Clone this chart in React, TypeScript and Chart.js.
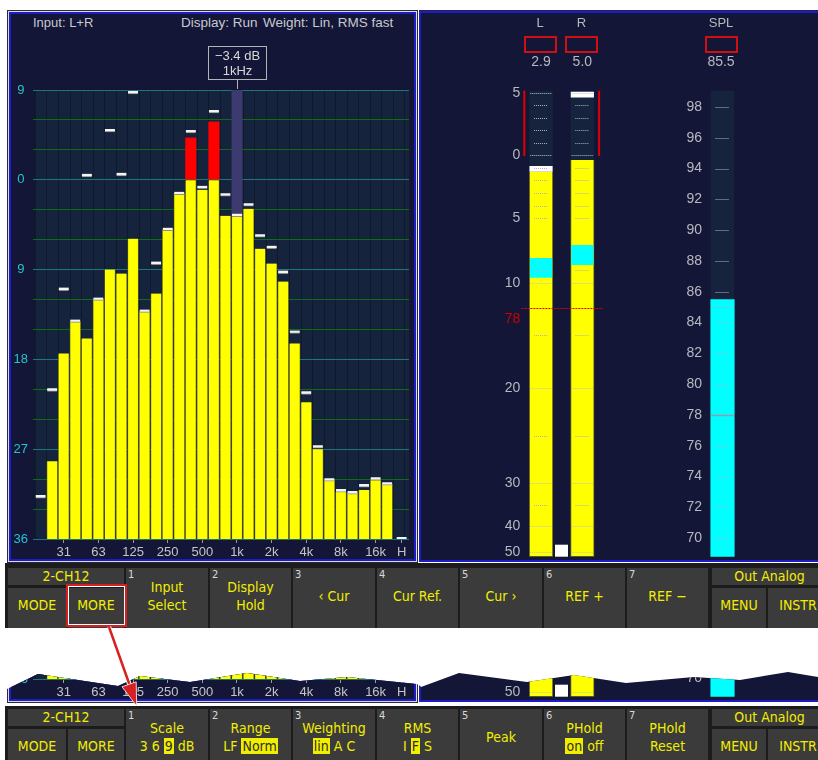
import React, { useEffect, useRef } from 'react';
import { Chart, registerables, LinearScale } from 'chart.js';

Chart.register(...registerables);

// ---------------- data ----------------
const bandLabels = ['20', '25', '31.5', '40', '50', '63', '80', '100', '125', '160', '200', '250', '315', '400', '500', '630', '800', '1k', '1.25k', '1.6k', '2k', '2.5k', '3.15k', '4k', '5k', '6.3k', '8k', '10k', '12.5k', '16k', '20k', 'H'];
const bandPos = [0, 1, 2, 3, 4, 5, 6, 7, 8, 9, 10, 11, 12, 13, 14, 15, 16, 17, 18, 19, 20, 21, 22, 23, 24, 25, 26, 27, 28, 29, 30, 31.25];
const bandLevelDb = [null, -28.2, -17.4, -14.2, -15.9, -12.0, -9.0, -9.4, -5.9, -13.2, -11.4, -5.0, -1.35, 4.2, -1.0, 5.8, -3.6, -3.4, -2.9, -6.9, -8.4, -10.2, -16.4, -22.3, -27.0, -30.1, -31.3, -31.4, -31.1, -30.1, -30.5, null];
const bandPeakDb = [-31.6, -20.9, -10.8, -14.0, 0.6, -11.8, 5.1, 0.7, 8.9, -13.0, -8.2, -4.8, -1.2, 5.0, -0.6, 7.0, -1.35, -3.4, -2.35, -5.45, -6.6, -9.1, -15.1, -21.2, -26.6, -29.9, -31.0, -31.2, -30.5, -29.8, -30.3, -35.8];
const freqTickBands = [2, 5, 8, 11, 14, 17, 20, 23, 26, 29, 31];
const freqTickLabels = ['31', '63', '125', '250', '500', '1k', '2k', '4k', '8k', '16k', 'H'];
const specTopDb = 9;
const specBottomDb = -36;
const cursorBand = 17;
const cursorText = ['\u22123.4 dB', '1kHz'];

const meterChannels = ['L', 'R'];
const meterLevelDb = [-1.3, -0.4];
const meterPeakHoldDb = [-0.9, 5.05];
const meterRmsLowDb = [-9.6, -8.6];
const meterRmsHighDb = [-8.1, -7.1];
const meterReadout = ['2.9', '5.0'];
const meterRefDb = -12.4;
const meterRefLabel = '78';
const ppmTickDb = [5, 0, -5, -10, -20, -30, -40, -50];
const ppmLongMarks = [5, 0, -10, -20, -30, -40, -50];
const ppmShortMarks = [4, 3, 2, 1, -1, -2, -3, -4, -5, -9, -15, -25, -35];
// non-linear meter scale: dB -> fraction of meter height
const ppmScaleDb = [5.16, 5, 0, -5, -10, -20, -30, -40, -50, -52.5];
const ppmScaleFrac = [1, 0.9957, 0.862, 0.7262, 0.588, 0.3614, 0.1575, 0.0659, 0.0094, 0];

const splName = 'SPL';
const splValue = 85.5;
const splReadout = '85.5';
const splHoldMark = 85;
const splRef = 78;
const splTicks = [70, 72, 74, 76, 78, 80, 82, 84, 86, 88, 90, 92, 94, 96, 98];
const splMin = 68.8;
const splMax = 99.06;

// ---------------- style ----------------
const NAVY = '#131636';
const COL = '#15233d';
const SEP = '#0f182e';
const BLUE = '#1c1cc8';
const TEAL = '#1d7678';
const GREEN = '#0f6c14';
const YELLOW = '#ffff00';
const RED = '#ff0000';
const CYAN = '#00ffff';
const GRAY = '#b8b8c0';
const FONT = "'Liberation Sans', Arial, sans-serif";
const KEYFONT = "'Liberation Sans Narrow', 'DejaVu Sans Condensed', 'Liberation Sans', sans-serif";
const KEYBG = '#3b3b3b';
const KEYTXT = '#f2ee00';

Chart.defaults.font.family = FONT;

function ppmFrac(v: number) {
  const d = ppmScaleDb, f = ppmScaleFrac;
  if (v >= d[0]) return 1;
  for (let i = 0; i < d.length - 1; i++) {
    if (v <= d[i] && v >= d[i + 1]) return f[i + 1] + (v - d[i + 1]) * (f[i] - f[i + 1]) / (d[i] - d[i + 1]);
  }
  return 0;
}

class PpmScale extends LinearScale {
  static id = 'ppm';
  static defaults = {};
  getPixelForValue(value: number) {
    return this.bottom - ppmFrac(value) * (this.bottom - this.top);
  }
  getValueForPixel(pixel: number) {
    const fr = (this.bottom - pixel) / (this.bottom - this.top);
    const d = ppmScaleDb, f = ppmScaleFrac;
    for (let i = 0; i < d.length - 1; i++) {
      if (fr <= f[i] && fr >= f[i + 1]) return d[i + 1] + (fr - f[i + 1]) * (d[i] - d[i + 1]) / (f[i] - f[i + 1]);
    }
    return fr > 1 ? d[0] : d[d.length - 1];
  }
}
Chart.register(PpmScale);

function dotted(ctx: any, x0: number, x1: number, y: number, color: string, dash: number[] = [1, 1], lw = 1) {
  ctx.save();
  ctx.strokeStyle = color;
  ctx.lineWidth = lw;
  ctx.setLineDash(dash);
  ctx.beginPath();
  ctx.moveTo(x0, Math.round(y) + 0.5);
  ctx.lineTo(x1, Math.round(y) + 0.5);
  ctx.stroke();
  ctx.restore();
}

const noLabelPadding = (w: number) => (s: any) => {
  s.width = w;
  s.paddingTop = 0;
  s.paddingBottom = 0;
};

// ---------------- spectrum ----------------
const spectrumPlugin = {
  id: 'spectrumDecor',
  beforeDraw(chart: any) {
    const { ctx, chartArea: a, scales } = chart;
    const x = scales.x;
    ctx.save();
    ctx.beginPath();
    ctx.rect(a.left, a.top, a.right - a.left, a.bottom - a.top);
    ctx.clip();
    ctx.fillStyle = SEP;
    ctx.fillRect(a.left, a.top, a.right - a.left, a.bottom - a.top);
    ctx.fillStyle = COL;
    for (let i = 0; i < 34; i++) {
      const l = Math.round(x.getPixelForValue(i - 0.5));
      const r = Math.round(x.getPixelForValue(i + 0.5));
      ctx.fillRect(l + 1, a.top, r - l - 1, a.bottom - a.top);
    }
    ctx.restore();
  },
  afterDraw(chart: any) {
    const { ctx, chartArea: a, scales } = chart;
    const cx = Math.round(scales.x.getPixelForValue(bandPos[cursorBand])) + 0.5;
    ctx.save();
    ctx.strokeStyle = '#b4b4b4';
    ctx.lineWidth = 1;
    ctx.strokeRect(cx - 29, Math.round(a.top - 44) + 0.5, 58, 33);
    ctx.beginPath();
    ctx.moveTo(cx, a.top - 11);
    ctx.lineTo(cx, a.top - 1);
    ctx.stroke();
    ctx.fillStyle = '#d8d8d8';
    ctx.font = '13px ' + FONT;
    ctx.textAlign = 'center';
    ctx.textBaseline = 'middle';
    ctx.fillText(cursorText[0], cx, a.top - 34);
    ctx.fillText(cursorText[1], cx, a.top - 19);
    ctx.restore();
  },
};

function spectrumConfig(): any {
  return {
    type: 'bar',
    data: {
      datasets: [
        {
          label: 'cursor',
          data: [{ x: bandPos[cursorBand], y: [bandLevelDb[cursorBand], specTopDb] }],
          backgroundColor: '#3c3a6e',
          barThickness: 10.5,
          grouped: false,
          order: 3,
        },
        {
          label: 'level',
          data: bandLevelDb.map((v, i) => ({ x: bandPos[i], y: v === null ? null : [specBottomDb, Math.min(v, 0)] })),
          backgroundColor: YELLOW,
          borderColor: '#66661e',
          borderWidth: { left: 0.8, right: 0.8, top: 0, bottom: 0 },
          borderSkipped: false,
          barThickness: 10.8,
          grouped: false,
          order: 2,
        },
        {
          label: 'over',
          data: bandLevelDb.map((v, i) => ({ x: bandPos[i], y: v !== null && v > 0 ? [0, v] : null })),
          backgroundColor: RED,
          barThickness: 10.5,
          grouped: false,
          order: 2,
        },
        {
          label: 'peak',
          data: bandPeakDb.map((p, i) => ({ x: bandPos[i], y: [p - 0.3, p] })),
          backgroundColor: '#f4f4f4',
          borderColor: '#8d8d8d',
          borderWidth: { top: 0, left: 0, right: 0, bottom: 1 },
          borderSkipped: false,
          barThickness: 10,
          grouped: false,
          order: 0,
        },
      ],
    },
    options: {
      responsive: false,
      animation: false,
      layout: { padding: { top: 76, right: 5, left: 0, bottom: 0 } },
      plugins: { legend: { display: false }, tooltip: { enabled: false } },
      scales: {
        x: {
          type: 'linear',
          offset: false,
          min: -0.66,
          max: 31.89,
          afterFit: (s: any) => { s.height = 20; },
          afterBuildTicks: (s: any) => { s.ticks = freqTickBands.map((b) => ({ value: bandPos[b] })); },
          ticks: {
            callback: (_v: any, i: number) => freqTickLabels[i],
            color: '#c4c4c8',
            font: { size: 13 },
            padding: 2,
            autoSkip: false,
            maxRotation: 0,
          },
          grid: { offset: false, drawOnChartArea: false, drawTicks: true, tickLength: 4, color: '#9a9aa0', lineWidth: 1 },
          border: { display: false },
        },
        y: {
          type: 'linear',
          min: specBottomDb,
          max: specTopDb,
          afterFit: (s: any) => { s.width = 22; },
          ticks: {
            stepSize: 3,
            autoSkip: false,
            callback: (v: number) => (v % 9 === 0 ? String(Math.abs(v)) : ''),
            color: '#26c3cf',
            font: { size: 13 },
            padding: 5,
            crossAlign: 'center',
          },
          grid: {
            drawTicks: false,
            lineWidth: 1,
            color: (c: any) => (c.tick && c.tick.value % 9 === 0 ? TEAL : GREEN),
          },
          border: { display: false },
        },
      },
    },
    plugins: [spectrumPlugin],
  };
}

// ---------------- L/R meters ----------------
const METER_W = 23.5;
const meterPlugin = {
  id: 'meterDecor',
  beforeDatasetsDraw(chart: any) {
    const { ctx, chartArea: a, scales } = chart;
    ctx.save();
    ctx.fillStyle = COL;
    meterChannels.forEach((_, i) => {
      const cx = scales.x.getPixelForValue(i);
      ctx.fillRect(cx - METER_W / 2, a.top, METER_W, a.bottom - a.top);
    });
    ctx.restore();
  },
  afterDatasetsDraw(chart: any) {
    const { ctx, chartArea: a, scales } = chart;
    const x = scales.x, y = scales.y;
    meterChannels.forEach((_, i) => {
      const cx = x.getPixelForValue(i);
      ppmLongMarks.forEach((v) => dotted(ctx, cx - METER_W / 2 + 1, cx + METER_W / 2 - 1, y.getPixelForValue(v), '#c0c0d0', [1, 1]));
      ppmShortMarks.forEach((v) => dotted(ctx, cx - 7, cx + 7, y.getPixelForValue(v), '#b0b0c4', [1, 1]));
    });
    const c0 = x.getPixelForValue(0), c1 = x.getPixelForValue(1);
    ctx.save();
    ctx.fillStyle = '#e00000';
    const yTop = y.getPixelForValue(ppmScaleDb[0]);
    const y0 = y.getPixelForValue(0) + 1;
    ctx.fillRect(c0 - METER_W / 2 - 6, yTop, 2, y0 - yTop);
    ctx.fillRect(c1 + METER_W / 2 + 4, yTop, 2, y0 - yTop);
    ctx.restore();
    dotted(ctx, a.left + 1, a.right, y.getPixelForValue(meterRefDb), '#e00000', [2, 1], 1.2);
    ctx.save();
    ctx.fillStyle = '#d00000';
    ctx.font = '14px ' + FONT;
    ctx.textAlign = 'right';
    ctx.textBaseline = 'middle';
    ctx.fillText(meterRefLabel, a.left, y.getPixelForValue(meterRefDb) + 11);
    ctx.fillStyle = '#ffffff';
    const mid = (c0 + c1) / 2;
    ctx.fillRect(Math.round(mid - 6.5), a.bottom - 12, 13, 12);
    ctx.restore();
  },
  afterDraw(chart: any) {
    const { ctx, scales } = chart;
    ctx.save();
    ctx.textAlign = 'center';
    ctx.textBaseline = 'middle';
    meterChannels.forEach((name, i) => {
      const cx = scales.x.getPixelForValue(i);
      ctx.fillStyle = GRAY;
      ctx.font = '13px ' + FONT;
      ctx.fillText(name, cx - 1, 9);
      ctx.font = '14px ' + FONT;
      ctx.fillText(meterReadout[i], cx, 48);
      ctx.strokeStyle = '#d01010';
      ctx.lineWidth = 2;
      ctx.strokeRect(Math.round(cx - 16), 23, 31, 15);
    });
    ctx.restore();
  },
};

function meterConfig(): any {
  const lo = ppmScaleDb[ppmScaleDb.length - 1];
  return {
    type: 'bar',
    data: {
      labels: meterChannels,
      datasets: [
        {
          label: 'level',
          data: meterLevelDb.map((v) => [lo, v]),
          backgroundColor: YELLOW,
          borderColor: '#6a6a20',
          borderWidth: { left: 1, right: 1, bottom: 1, top: 0 },
          borderSkipped: false,
          barThickness: METER_W,
          grouped: false,
          order: 3,
        },
        {
          label: 'rms',
          data: meterRmsLowDb.map((v, i) => [v, meterRmsHighDb[i]]),
          backgroundColor: CYAN,
          barThickness: METER_W - 2,
          grouped: false,
          order: 2,
        },
        {
          label: 'peak hold',
          data: meterPeakHoldDb.map((p) => [p - 0.4, p]),
          backgroundColor: '#ffffff',
          barThickness: METER_W - 1,
          grouped: false,
          order: 1,
        },
      ],
    },
    options: {
      responsive: false,
      animation: false,
      layout: { padding: { top: 76.7, bottom: 3.3, right: 7, left: 0 } },
      plugins: { legend: { display: false }, tooltip: { enabled: false } },
      scales: {
        x: { type: 'category', display: false, offset: true },
        y: {
          type: 'ppm',
          min: ppmScaleDb[ppmScaleDb.length - 1],
          max: ppmScaleDb[0],
          afterFit: noLabelPadding(25.4),
          afterBuildTicks: (s: any) => { s.ticks = ppmTickDb.map((v) => ({ value: v })); },
          ticks: {
            callback: (v: number) => String(Math.abs(v)),
            color: GRAY,
            font: { size: 14 },
            padding: 0,
            autoSkip: false,
          },
          grid: { display: false, drawTicks: false },
          border: { display: false },
        },
      },
    },
    plugins: [meterPlugin],
  };
}

// ---------------- SPL meter ----------------
const splPlugin = {
  id: 'splDecor',
  beforeDatasetsDraw(chart: any) {
    const { ctx, chartArea: a, scales } = chart;
    const cx = scales.x.getPixelForValue(0);
    ctx.save();
    ctx.fillStyle = COL;
    ctx.fillRect(cx - METER_W / 2, a.top, METER_W, a.bottom - a.top);
    ctx.restore();
  },
  afterDatasetsDraw(chart: any) {
    const { ctx, scales } = chart;
    const cx = scales.x.getPixelForValue(0);
    splTicks.forEach((v) => dotted(ctx, cx - 7, cx + 7, scales.y.getPixelForValue(v), '#b0b0c4', [1, 1]));
    dotted(ctx, cx - METER_W / 2, cx + METER_W / 2, scales.y.getPixelForValue(splHoldMark), '#a8a8c0', [1, 1]);
    dotted(ctx, cx - METER_W / 2, cx + METER_W / 2, scales.y.getPixelForValue(splRef), '#9a9aa8', [], 1.5);
  },
  afterDraw(chart: any) {
    const { ctx, scales } = chart;
    const cx = scales.x.getPixelForValue(0);
    ctx.save();
    ctx.textAlign = 'center';
    ctx.textBaseline = 'middle';
    ctx.fillStyle = GRAY;
    ctx.font = '13px ' + FONT;
    ctx.fillText(splName, cx - 1.5, 9);
    ctx.font = '14px ' + FONT;
    ctx.fillText(splReadout, cx - 1.5, 48);
    ctx.strokeStyle = '#d01010';
    ctx.lineWidth = 2;
    ctx.strokeRect(Math.round(cx - 17), 23, 31, 15);
    ctx.restore();
  },
};

function splConfig(): any {
  return {
    type: 'bar',
    data: {
      labels: [splName],
      datasets: [
        {
          label: 'SPL',
          data: [[splMin, splValue]],
          backgroundColor: CYAN,
          barThickness: METER_W,
          order: 1,
        },
      ],
    },
    options: {
      responsive: false,
      animation: false,
      layout: { padding: { top: 76.7, bottom: 3.3, right: 28, left: 0 } },
      plugins: { legend: { display: false }, tooltip: { enabled: false } },
      scales: {
        x: { type: 'category', display: false, offset: true },
        y: {
          type: 'linear',
          min: splMin,
          max: splMax,
          afterFit: noLabelPadding(43),
          afterBuildTicks: (s: any) => { s.ticks = splTicks.map((v) => ({ value: v })); },
          ticks: { color: GRAY, font: { size: 14 }, padding: 1, autoSkip: false, callback: (v: number) => String(v) },
          grid: { display: false, drawTicks: false },
          border: { display: false },
        },
      },
    },
    plugins: [splPlugin],
  };
}

// ---------------- components ----------------
function ChartCanvas({ left, top, width, height, make }: any) {
  const ref = useRef<HTMLCanvasElement>(null);
  useEffect(() => {
    const chart = new Chart(ref.current as HTMLCanvasElement, make());
    return () => chart.destroy();
  }, []);
  return (
    <canvas
      ref={ref}
      width={width}
      height={height}
      style={{ position: 'absolute', left, top, width, height, display: 'block' }}
    />
  );
}

function Screen({ dy }: { dy: number }) {
  const txt: any = { position: 'absolute', color: '#c8c8d0', font: '13px ' + FONT, whiteSpace: 'pre', lineHeight: '16px' };
  return (
    <>
      <div style={{ position: 'absolute', left: 7, top: 10 + dy, width: 411, height: 553, boxSizing: 'border-box', border: '1px solid #2a2a30', background: '#d8dae6' }}>
        <div style={{ position: 'absolute', left: 1, top: 1, right: 1, bottom: 1, background: BLUE }}>
          <div style={{ position: 'absolute', left: 2, top: 2, right: 2, bottom: 2, background: NAVY }} />
        </div>
      </div>
      <div style={{ ...txt, left: 33, top: 15 + dy }}>Input: L+R</div>
      <div style={{ ...txt, left: 181, top: 15 + dy, fontSize: 13.5 }}>Display: Run</div>
      <div style={{ ...txt, left: 263, top: 15 + dy, fontSize: 13.5 }}>Weight: Lin, RMS fast</div>
      <ChartCanvas left={11} top={14 + dy} width={403} height={545} make={spectrumConfig} />

      <div style={{ position: 'absolute', left: 419, top: 11 + dy, width: 399, height: 551, boxSizing: 'border-box', background: NAVY, borderTop: '2px solid ' + BLUE, borderBottom: '2px solid ' + BLUE, borderLeft: '2px solid ' + BLUE, boxShadow: '0 -1px 0 #22224a' }} />
      <ChartCanvas left={495} top={14 + dy} width={115} height={546} make={meterConfig} />
      <ChartCanvas left={660} top={14 + dy} width={110} height={546} make={splConfig} />
    </>
  );
}

const HL = ({ children }: any) => (
  <span style={{ background: KEYTXT, color: '#2e2e2e', padding: '0 1px' }}>{children}</span>
);

const keyEdges = [126, 210, 293, 377, 460, 544, 627, 710];

function KeyText({ left, width, cy, children }: any) {
  return (
    <div style={{ position: 'absolute', left, width, top: cy - 9, height: 18, lineHeight: '18px', textAlign: 'center', color: KEYTXT, font: '14px ' + KEYFONT, whiteSpace: 'nowrap' }}>
      {children}
    </div>
  );
}

function SoftBar({ o, bg0, bg1, keys }: any) {
  const box = (l: number, t: number, w: number, h: number) => (
    <div style={{ position: 'absolute', left: l, top: t, width: w, height: h, background: KEYBG }} />
  );
  return (
    <>
      <div style={{ position: 'absolute', left: 5, top: bg0, width: 813, height: bg1 - bg0, background: '#1c1c1c' }} />
      {box(8, o + 4, 116, 17)}
      <KeyText left={8} width={116} cy={o + 13}>2-CH12</KeyText>
      {box(8, o + 24, 58, 40)}
      <KeyText left={8} width={58} cy={o + 42}>MODE</KeyText>
      {box(68, o + 24, 56, 40)}
      <KeyText left={68} width={56} cy={o + 42}>MORE</KeyText>
      {keys.map((lines: any[], i: number) => {
        const l = keyEdges[i];
        const w = keyEdges[i + 1] - l - 2;
        return (
          <React.Fragment key={i}>
            {box(l, o + 4, w, 60)}
            <div style={{ position: 'absolute', left: l + 2, top: o + 4, color: '#d8d8d8', font: '11px ' + KEYFONT, lineHeight: '13px' }}>{i + 1}</div>
            {lines.length === 2 ? (
              <>
                <KeyText left={l} width={w} cy={o + 24}>{lines[0]}</KeyText>
                <KeyText left={l} width={w} cy={o + 42}>{lines[1]}</KeyText>
              </>
            ) : (
              <KeyText left={l} width={w} cy={o + 33}>{lines[0]}</KeyText>
            )}
          </React.Fragment>
        );
      })}
      {box(712, o + 4, 115, 17)}
      <KeyText left={712} width={115} cy={o + 13}>Out Analog</KeyText>
      {box(712, o + 24, 54, 40)}
      <KeyText left={712} width={54} cy={o + 42}>MENU</KeyText>
      {box(768, o + 24, 60, 40)}
      <KeyText left={768} width={60} cy={o + 42}>INSTR</KeyText>
    </>
  );
}

const keysA = [['Input', 'Select'], ['Display', 'Hold'], ['\u2039 Cur'], ['Cur Ref.'], ['Cur \u203a'], ['REF +'], ['REF \u2212']];
const keysB = [
  ['Scale', <>3 6 <HL>9</HL> dB</>],
  ['Range', <>LF <HL>Norm</HL></>],
  ['Weighting', <><HL>lin</HL> A C</>],
  ['RMS', <>I <HL>F</HL> S</>],
  ['Peak'],
  ['PHold', <><HL>on</HL> off</>],
  ['PHold', 'Reset'],
];

const tornTop: [number, number][] = [
  [7, 689], [38, 674], [118, 686], [140, 676], [190, 682], [247, 673], [300, 681], [347, 677], [417, 684],
  [421, 687], [459, 673], [527, 682], [574, 675], [626, 683], [694, 677], [740, 680], [788, 672], [818, 677],
];

export default function App() {
  const clip = 'polygon(' + [...tornTop, [818, 706], [7, 706]].map(([x, y]) => `${x}px ${y}px`).join(', ') + ')';
  return (
    <div style={{ position: 'absolute', left: 0, top: 0, width: 818, height: 760, overflow: 'hidden', background: '#ffffff' }}>
      <Screen dy={0} />
      <div style={{ position: 'absolute', left: 0, top: 0, width: 818, height: 760, clipPath: clip }}>
        <Screen dy={140} />
      </div>
      <SoftBar o={564} bg0={563} bg1={628} keys={keysA} />
      <div style={{ position: 'absolute', left: 66, top: 584, width: 61, height: 43, boxSizing: 'border-box', border: '2px solid #d42020', boxShadow: 'inset 0 0 0 1px #ffffff' }} />
      <SoftBar o={705} bg0={706} bg1={760} keys={keysB} />
      <svg width={818} height={760} style={{ position: 'absolute', left: 0, top: 0, pointerEvents: 'none' }}>
        <line x1={109} y1={627} x2={130} y2={686} stroke="#ffffff" strokeWidth={4.5} />
        <line x1={109} y1={627} x2={130} y2={686} stroke="#d82020" strokeWidth={2.5} />
        <polygon points="136.7,706 136.2,681.8 122,686.8" fill="#d82020" stroke="#ffffff" strokeWidth={0.8} />
      </svg>
    </div>
  );
}
